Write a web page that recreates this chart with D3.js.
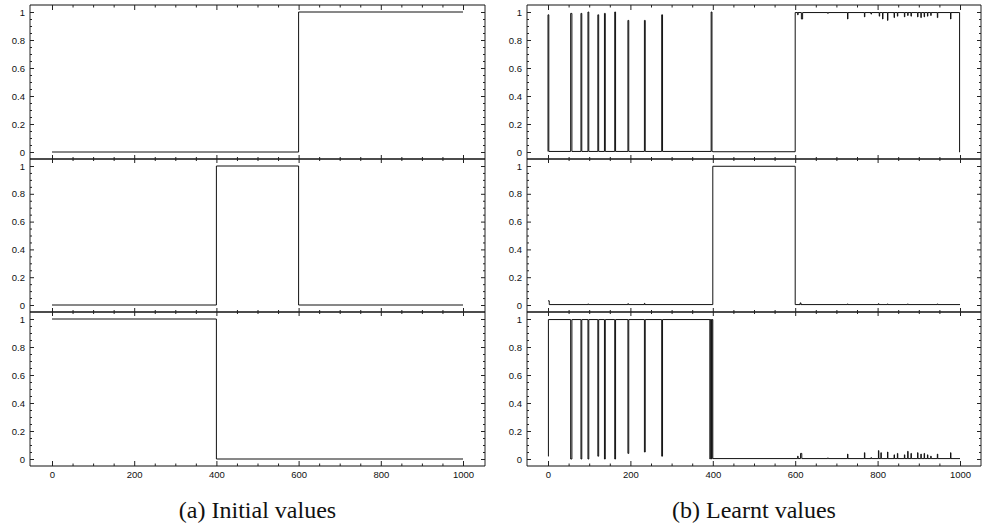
<!DOCTYPE html>
<html>
<head>
<meta charset="utf-8">
<script src="https://cdn.jsdelivr.net/npm/d3@7/dist/d3.min.js"></script>
<style>
  html, body { margin: 0; padding: 0; background: #fff; }
  svg { display: block; }
  .tick text { font-family: "Liberation Sans", Arial, sans-serif; font-size: 9.5px; fill: #111; }
  .caption { font-family: "Liberation Serif", "Times New Roman", serif; font-size: 24px; fill: #111; }
</style>
</head>
<body>
<svg id="chart" width="982" height="531"></svg>
<script>
// Axis ticks and labels
const xMajorTicks = [0, 200, 400, 600, 800, 1000];
const xMinorStep = 50;
const yMajorTicks = [0, 0.2, 0.4, 0.6, 0.8, 1];
const yTickLabels = ["0", "0.2", "0.4", "0.6", "0.8", "1"];
const yMinorStep = 0.05;
const captions = ["(a) Initial values", "(b) Learnt values"];

// Each series: constant levels [from, to, value] plus narrow spikes [x, width, value]
// (a) initial values, one series per row
const initialTopLevels = [[0, 600, 0], [600, 1000, 1]];
const initialMidLevels = [[0, 400, 0], [400, 600, 1], [600, 1000, 0]];
const initialBotLevels = [[0, 400, 1], [400, 1000, 0]];

// (b) learnt values, one series per row
const learntTopLevels = [[0, 400, 0.004], [400, 600, 0.002], [600, 999, 0.996], [999, 1000, 0.0]];
const learntTopSpikes = [
  [0, 2, 0.98], [55, 3, 0.99], [80, 2, 0.99], [97, 2, 1.0], [121, 2, 0.98],
  [137, 2, 0.99], [162, 2, 1.0], [194, 2, 0.94], [234, 2, 0.94], [276, 2, 0.98],
  [396, 2, 1.0],
  [606, 1, 0.98], [615, 3, 0.95], [679, 1, 0.99], [727, 1, 0.95], [768, 1, 0.965],
  [784, 1, 0.985], [804, 1, 0.97], [812, 1, 0.95], [824, 1, 0.94], [840, 1, 0.96],
  [848, 1, 0.97], [865, 1, 0.965], [873, 1, 0.975], [881, 1, 0.97], [897, 1, 0.965],
  [905, 1, 0.96], [913, 1, 0.965], [921, 1, 0.97], [929, 1, 0.975], [945, 1, 0.96],
  [977, 1, 0.95]
];
const learntMidLevels = [[0, 3, 0.03], [3, 400, 0.003], [400, 600, 0.998], [600, 1000, 0.003]];
const learntMidSpikes = [
  [97, 1, 0.008], [194, 1, 0.01], [234, 1, 0.012], [612, 2, 0.015], [727, 1, 0.008],
  [802, 1, 0.01], [824, 1, 0.008], [873, 1, 0.008], [945, 1, 0.008]
];
const learntBotLevels = [[0, 1, 0.02], [1, 400, 0.996], [400, 1000, 0.003]];
const learntBotSpikes = [
  [55, 3, 0.0], [80, 2, 0.0], [97, 2, 0.0], [121, 2, 0.02], [137, 2, 0.0],
  [162, 2, 0.0], [194, 2, 0.04], [234, 2, 0.05], [276, 2, 0.02],
  [393, 1, 0.0], [397, 1, 0.0],
  [606, 1, 0.02], [613, 3, 0.04], [679, 1, 0.008], [727, 1, 0.035], [768, 1, 0.045],
  [784, 1, 0.01], [802, 1, 0.06], [808, 1, 0.045], [824, 1, 0.05], [840, 1, 0.03],
  [848, 1, 0.04], [865, 1, 0.03], [873, 1, 0.055], [881, 1, 0.04], [897, 1, 0.045],
  [905, 1, 0.035], [913, 1, 0.04], [921, 1, 0.03], [929, 1, 0.02], [945, 1, 0.035],
  [977, 1, 0.045]
];

const columns = [
  { left: 30, right: 485, x0: 52, x1: 463, rows: [
    [initialTopLevels, []], [initialMidLevels, []], [initialBotLevels, []] ] },
  { left: 527, right: 981, x0: 548, x1: 960, rows: [
    [learntTopLevels, learntTopSpikes], [learntMidLevels, learntMidSpikes], [learntBotLevels, learntBotSpikes] ] }
];
const rowEdges = [5, 159, 312, 466];
const yInset = 7;

// Turn levels + spikes into step vertices
function stepPoints(levels, spikes) {
  const pts = [];
  levels.forEach(([from, to, v]) => {
    pts.push([from, v]);
    spikes.filter(s => s[0] >= from && s[0] < to)
      .sort((a, b) => a[0] - b[0])
      .forEach(([x, w, sv]) => { pts.push([x, sv]); pts.push([x + w, v]); });
  });
  const last = levels[levels.length - 1];
  pts.push([last[1], last[2]]);
  return pts;
}

const svg = d3.select("#chart");
const xMinor = d3.range(0, 1000 + 1e-9, xMinorStep).filter(v => !xMajorTicks.includes(v));
const yMinor = d3.range(0, 1 + 1e-9, yMinorStep).map(v => +v.toFixed(2))
  .filter(v => !yMajorTicks.some(t => Math.abs(t - v) < 1e-6));

columns.forEach((col, ci) => {
  const g = svg.append("g");
  const x = d3.scaleLinear().domain([0, 1000]).range([col.x0, col.x1]);

  col.rows.forEach(([levels, spikes], ri) => {
    const top = rowEdges[ri], bottom = rowEdges[ri + 1];
    const y = d3.scaleLinear().domain([0, 1]).range([bottom - yInset, top + yInset]);

    // y axes: left (with labels) and right, ticks pointing inward
    const yl = g.append("g").attr("transform", `translate(${col.left},0)`);
    yl.call(d3.axisLeft(y).tickValues(yMajorTicks).tickSize(-4).tickPadding(5)
      .tickFormat((d, i) => yTickLabels[i]));
    yl.append("g").call(d3.axisLeft(y).tickValues(yMinor).tickSize(-2).tickFormat(""));
    const yr = g.append("g").attr("transform", `translate(${col.right},0)`);
    yr.call(d3.axisRight(y).tickValues(yMajorTicks).tickSize(-4).tickFormat(""));
    yr.append("g").call(d3.axisRight(y).tickValues(yMinor).tickSize(-2).tickFormat(""));

    // series line
    const line = d3.line().x(d => x(d[0])).y(d => y(d[1])).curve(d3.curveStepAfter);
    g.append("path").datum(stepPoints(levels, spikes))
      .attr("d", line).attr("fill", "none")
      .attr("stroke", "#111").attr("stroke-width", 1);
  });

  // vertical frame edges
  [col.left, col.right].forEach(xp => {
    g.append("line").attr("x1", xp).attr("x2", xp)
      .attr("y1", rowEdges[0]).attr("y2", rowEdges[3])
      .attr("stroke", "#222").attr("stroke-width", 1);
  });

  // horizontal edges with x ticks
  rowEdges.forEach((yp, ei) => {
    g.append("line").attr("x1", col.left).attr("x2", col.right)
      .attr("y1", yp).attr("y2", yp).attr("stroke", "#111")
      .attr("stroke-width", (ei === 0 || ei === 3) ? 1 : 1.6);
    const majorLen = ei === 0 || ei === 3 ? 5 : 8;
    const minorLen = ei === 0 || ei === 3 ? 2.5 : 4;
    const offMaj = (ei === 0 || ei === 3) ? 0 : -majorLen / 2;
    const offMin = (ei === 0 || ei === 3) ? 0 : -minorLen / 2;
    const sign = ei === 3 ? -1 : 1;
    const gMaj = g.append("g").attr("transform", `translate(0,${yp + offMaj})`)
      .call(d3.axisBottom(x).tickValues(xMajorTicks).tickSize(majorLen * sign).tickFormat(""));
    const gMin = g.append("g").attr("transform", `translate(0,${yp + offMin})`)
      .call(d3.axisBottom(x).tickValues(xMinor).tickSize(minorLen * sign).tickFormat(""));
    [gMaj, gMin].forEach(a => a.select(".domain").remove());
    if (ei === 3) {
      const lab = g.append("g").attr("transform", `translate(0,${yp})`)
        .call(d3.axisBottom(x).tickValues(xMajorTicks).tickSize(0).tickPadding(5).tickFormat(d3.format("d")));
      lab.select(".domain").remove();
    }
  });

  g.selectAll(".domain").remove();
  g.selectAll(".tick line").attr("stroke", "#222");

  // caption
  svg.append("text").attr("class", "caption")
    .attr("x", (col.left + col.right) / 2).attr("y", 518)
    .attr("text-anchor", "middle").text(captions[ci]);
});
</script>
</body>
</html>
